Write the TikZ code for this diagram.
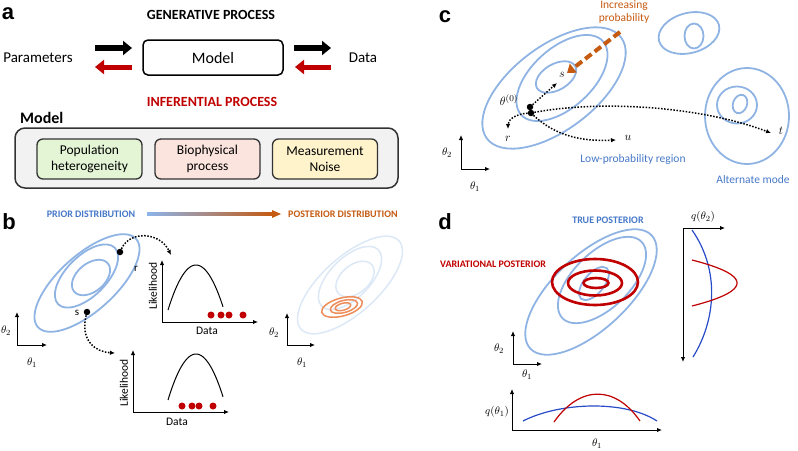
\documentclass[tikz,border=0pt]{standalone}
\usepackage{fontspec}
\setmainfont{Carlito}
\newfontfamily\panelfont{Liberation Sans}
\usepackage{tikz}
\usetikzlibrary{arrows.meta}

\definecolor{contblue}{RGB}{143,180,228}
\definecolor{fadeblue}{RGB}{220,232,246}
\definecolor{postorange}{RGB}{238,140,90}
\definecolor{infred}{RGB}{192,0,0}
\definecolor{brownorange}{RGB}{197,90,17}
\definecolor{textblue}{RGB}{70,120,200}
\definecolor{curveblue}{RGB}{40,75,200}
\definecolor{boxgreen}{RGB}{228,245,214}
\definecolor{boxpink}{RGB}{251,228,222}
\definecolor{boxyellow}{RGB}{255,243,204}
\definecolor{boxgrey}{RGB}{242,242,242}
\definecolor{priorblue}{RGB}{140,180,235}

\tikzset{>=latex}
\tikzset{
  panellbl/.style={font=\panelfont\bfseries\fontsize{22}{24}\selectfont, inner sep=0pt},
  bigtext/.style={font=\fontsize{15}{17}\selectfont, inner sep=1pt},
  headtext/.style={font=\bfseries\fontsize{14}{16}\selectfont, inner sep=1pt},
  captext/.style={font=\bfseries\fontsize{10}{12}\selectfont, inner sep=1pt},
  smalltext/.style={font=\fontsize{11.5}{13}\selectfont, inner sep=1pt},
  mathlbl/.style={font=\fontsize{11}{13}\selectfont, inner sep=1pt},
  modelbox/.style={draw, line width=1.5pt, rounded corners=5pt, fill=white,
    minimum width=140pt, minimum height=35pt, font=\fontsize{16}{18}\selectfont},
  partbox/.style={draw=black!80, line width=1.3pt, rounded corners=6pt,
    minimum width=105pt, minimum height=40pt, align=center,
    font=\fontsize{13.5}{16}\selectfont},
  contour/.style={draw=contblue, line width=1.8pt},
  faded/.style={draw=fadeblue, line width=1.5pt},
  fatarrow/.style={line width=6pt, -{Triangle[length=9pt,width=14pt]}},
  axes/.style={line width=1pt,
    {Latex[length=5pt,width=4.5pt]}-{Latex[length=5pt,width=4.5pt]}},
  dotarrow/.style={line width=1.5pt, dash pattern=on 1.5pt off 1.6pt,
    -{Latex[length=5pt,width=4.5pt]}},
  dot/.style={circle, fill=black, inner sep=0pt, minimum size=6.5pt},
  datadot/.style={circle, fill=infred, inner sep=0pt, minimum size=7pt},
}

\begin{document}
\begin{tikzpicture}[x=1pt, y=-1pt]
\useasboundingbox (0,0) rectangle (798,450);

% panel labels
\node[panellbl] (la) at (8,14) {a};
\node[panellbl] (lb) at (9,222) {b};
\node[panellbl] (lc) at (445,17) {c};
\node[panellbl] (ld) at (445,222) {d};

% ---------- panel a ----------
\node[headtext] (gen) at (211,15) {GENERATIVE PROCESS};
\node[bigtext] (params) at (38,58) {Parameters};
\node[modelbox] (model) at (213,57.5) {Model};
\node[bigtext] (data) at (363,58) {Data};
\node[headtext, text=infred] (inf) at (212,102) {INFERENTIAL PROCESS};

\coordinate (genA) at (95,48);
\coordinate (genB) at (132,48);
\coordinate (genC) at (294,48);
\coordinate (genD) at (331,48);
\coordinate (infA) at (132,67);
\coordinate (infB) at (95,67);
\coordinate (infC) at (331,67);
\coordinate (infD) at (295,67);
\draw[fatarrow] (genA) -- (genB);
\draw[fatarrow] (genC) -- (genD);
\draw[fatarrow, infred, line width=5pt] (infA) -- (infB);
\draw[fatarrow, infred, line width=5pt] (infC) -- (infD);

% model parts
\node[font=\bfseries\fontsize{16}{18}\selectfont, anchor=west, inner sep=0pt] (mtitle) at (20,118) {Model};
\node[draw=black!80, line width=1.5pt, rounded corners=10pt, fill=boxgrey,
  minimum width=383pt, minimum height=60pt] (mframe) at (206.5,158) {};
\node[partbox, fill=boxgreen] (popu) at (89.5,159) {Population\\heterogeneity};
\node[partbox, fill=boxpink] (bio) at (207.5,159) {Biophysical\\process};
\node[partbox, fill=boxyellow] (noise) at (325,159) {Measurement\\Noise};

% ---------- panel b ----------
\node[captext, text=textblue] (prior) at (91,214) {PRIOR DISTRIBUTION};
\node[captext, text=brownorange, anchor=west] (post) at (287,214) {POSTERIOR DISTRIBUTION};
\coordinate (gradA) at (147,214);
\coordinate (gradB) at (281,214);
\shade[left color=priorblue, right color=brownorange]
  ([yshift=1.5pt]gradA) rectangle ([xshift=-8pt,yshift=-1.5pt]gradB);
\fill[brownorange] ([xshift=-9pt,yshift=4pt]gradB) -- (gradB) -- ([xshift=-9pt,yshift=-4pt]gradB) -- cycle;

% prior contours
\begin{scope}[shift={(87,283)}, rotate=42]
  \draw[contour] (0,0) ellipse [x radius=66, y radius=28];
\end{scope}
\begin{scope}[shift={(86.5,276)}, rotate=45]
  \draw[contour] (0,0) ellipse [x radius=40, y radius=20];
\end{scope}
\begin{scope}[shift={(91,277.5)}, rotate=40]
  \draw[contour] (0,0) ellipse [x radius=22, y radius=14];
\end{scope}
\node[dot] (rdot) at (120,252) {};
\node[mathlbl] (rlbl) at (136,269) {r};
\node[dot] (sdot) at (87,312) {};
\node[mathlbl] (slbl) at (77,313) {s};
\coordinate (rend) at (171,255);
\coordinate (send) at (115,353);
\draw[dotarrow] (rdot) .. controls (130,230) and (160,232) .. (rend);
\draw[dotarrow] (sdot) .. controls (80,340) and (95,352) .. (send);

\draw[axes] (17,312) -- (17,345) -- (47,345);
\node[mathlbl] (bth2) at (6,331) {$\theta_2$};
\node[mathlbl] (bth1) at (32,363) {$\theta_1$};

% likelihood at r
\draw[axes] (162,260) -- (162,322) -- (258,322);
\draw[line width=1pt] plot[domain=168:223, samples=50] (\x, {265+45*((\x-196)/28)^2});
\node[datadot] (ra1) at (211,315) {};
\node[datadot] (ra2) at (221,315) {};
\node[datadot] (ra3) at (229,315) {};
\node[datadot] (ra4) at (243,315) {};
\node[smalltext, rotate=90] (lik1) at (153,286) {Likelihood};
\node[smalltext] (dat1) at (207,331) {Data};

% likelihood at s
\draw[axes] (133,350) -- (133,412) -- (229,412);
\draw[line width=1pt] plot[domain=168:223, samples=50] (\x, {354+46*((\x-196)/28)^2});
\node[datadot] (sa1) at (182,406) {};
\node[datadot] (sa2) at (192,406) {};
\node[datadot] (sa3) at (199,406) {};
\node[datadot] (sa4) at (213,406) {};
\node[smalltext, rotate=90] (lik2) at (124,383) {Likelihood};
\node[smalltext] (dat2) at (177,422) {Data};

% posterior contours
\begin{scope}[shift={(350,285)}, rotate=42]
  \draw[faded] (0,0) ellipse [x radius=66, y radius=28];
\end{scope}
\begin{scope}[shift={(350,278)}, rotate=45]
  \draw[faded] (0,0) ellipse [x radius=40, y radius=20];
\end{scope}
\begin{scope}[shift={(355,279)}, rotate=40]
  \draw[faded] (0,0) ellipse [x radius=22, y radius=14];
\end{scope}
\begin{scope}[shift={(342,307)}, rotate=15]
  \draw[postorange, line width=1.5pt] (0,0) ellipse [x radius=21, y radius=9];
  \draw[postorange, line width=1.5pt] (2,0) ellipse [x radius=14, y radius=6];
  \draw[postorange, line width=1.5pt] (1,0) ellipse [x radius=8, y radius=3.5];
\end{scope}
\draw[axes] (287,313) -- (287,345) -- (315,345);
\node[mathlbl] (pth2) at (274,333) {$\theta_2$};
\node[mathlbl] (pth1) at (302,363) {$\theta_1$};

% ---------- panel c ----------
\node[smalltext, text=brownorange, align=center] (incr) at (624,12) {Increasing\\probability};
\begin{scope}[shift={(554,88)}, rotate=37]
  \draw[contour] (0,0) ellipse [x radius=84, y radius=42];
\end{scope}
\begin{scope}[shift={(562,78)}, rotate=42]
  \draw[contour] (0,0) ellipse [x radius=55, y radius=30];
\end{scope}
\begin{scope}[shift={(556,77)}, rotate=30]
  \draw[contour] (0,0) ellipse [x radius=22, y radius=13];
\end{scope}
\begin{scope}[shift={(689,33)}, rotate=15]
  \draw[contour] (0,0) ellipse [x radius=31, y radius=20];
\end{scope}
\draw[contour] (694,36) ellipse [x radius=9.5, y radius=12.5];
\draw[contour] (747,116) ellipse [x radius=42, y radius=48];
\draw[contour] (737,105) ellipse [x radius=20, y radius=18.5];
\begin{scope}[shift={(740,104)}, rotate=-20]
  \draw[contour] (0,0) ellipse [x radius=7, y radius=9.5];
\end{scope}

\node[font=\fontsize{13}{15}\selectfont, inner sep=1pt] (cs) at (562,75) {$s$};
\node[font=\fontsize{13}{15}\selectfont, inner sep=1pt] (th0) at (509,100) {$\theta^{(0)}$};
\node[font=\fontsize{13}{15}\selectfont, inner sep=1pt] (cr) at (508,139) {$r$};
\node[font=\fontsize{13}{15}\selectfont, inner sep=1pt] (cu) at (628,138) {$u$};
\node[font=\fontsize{13}{15}\selectfont, inner sep=1pt] (ct) at (781,131) {$t$};
\node[dot] (start1) at (530,107) {};
\node[dot] (start2) at (531,113) {};
\coordinate (toS) at (557,83);
\coordinate (toR) at (508,129);
\coordinate (toU) at (616,140);
\coordinate (toT) at (771,133);
\draw[dotarrow] (start1) -- (toS);
\draw[dotarrow] (start2) .. controls (515,114) and (508,120) .. (toR);
\draw[dotarrow] (start2) .. controls (560,140) and (590,141) .. (toU);
\draw[dotarrow] (start2) .. controls (600,100) and (700,106) .. (toT);
\coordinate (incrA) at (620,32);
\coordinate (incrB) at (567,73);
\draw[brownorange, line width=4pt, dash pattern=on 8pt off 4pt,
  -{Triangle[length=8pt,width=11pt]}] (incrA) -- (incrB);

\node[smalltext, text=textblue] (lowp) at (633,159) {Low-probability region};
\node[smalltext, text=textblue] (altm) at (753,180) {Alternate mode};
\draw[axes] (461,135) -- (461,169) -- (490,169);
\node[mathlbl] (cth2) at (447,153) {$\theta_2$};
\node[mathlbl] (cth1) at (475,187) {$\theta_1$};

% ---------- panel d ----------
\node[captext, text=textblue] (truep) at (608,220) {TRUE POSTERIOR};
\node[captext, text=infred] (varp) at (493,264) {VARIATIONAL POSTERIOR};
\begin{scope}[shift={(591,292)}, rotate=43]
  \draw[contour] (0,0) ellipse [x radius=83, y radius=37];
\end{scope}
\begin{scope}[shift={(602,280)}, rotate=44]
  \draw[contour] (0,0) ellipse [x radius=55, y radius=28];
\end{scope}
\begin{scope}[shift={(594,283.5)}, rotate=50]
  \draw[contour] (0,0) ellipse [x radius=20, y radius=10];
\end{scope}
\draw[infred, line width=2.6pt] (595,282) ellipse [x radius=43, y radius=23];
\draw[infred, line width=2.6pt] (595,283) ellipse [x radius=27, y radius=12.5];
\draw[infred, line width=2.6pt] (596,283) ellipse [x radius=12.5, y radius=5];

\draw[axes] (513,331) -- (513,364) -- (542,364);
\node[mathlbl] (dth2) at (499,349) {$\theta_2$};
\node[mathlbl] (dth1) at (527,375) {$\theta_1$};

% marginal in theta 2
\draw[axes] (725,228) -- (683,228) -- (683,362);
\node[mathlbl] (q2) at (703,217) {$q(\theta_2)$};
\draw[curveblue, line width=1.2pt] (692,230) .. controls (720,270) and (716,320) .. (693,357);
\draw[infred, line width=1.2pt] plot[domain=260:306, samples=50] ({737-45*((\x-283)/23)^2}, \x);

% marginal in theta 1
\draw[axes] (512,389) -- (512,430) -- (662,430);
\node[mathlbl] (q1) at (497,412) {$q(\theta_1)$};
\node[mathlbl] (qth1) at (597,444) {$\theta_1$};
\draw[curveblue, line width=1.2pt] (523,421) .. controls (560,402) and (625,400) .. (657,421);
\draw[infred, line width=1.2pt] (554,422) .. controls (580,385) and (615,385) .. (640,421);
\end{tikzpicture}
\end{document}
